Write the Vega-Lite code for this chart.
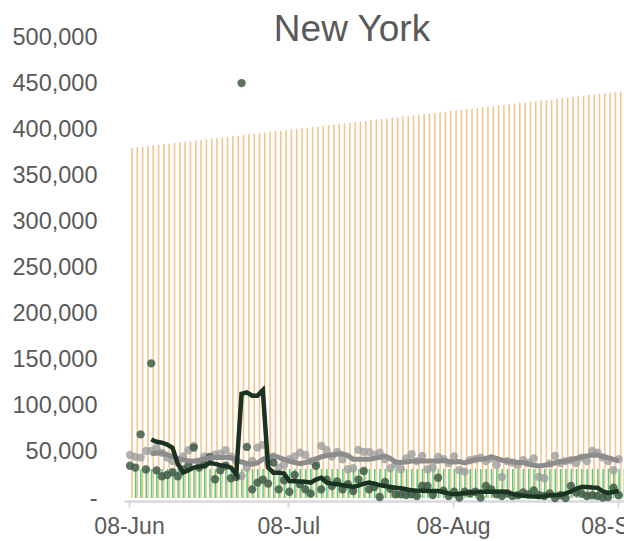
{
  "$schema": "https://vega.github.io/schema/vega-lite/v6.json",
  "autosize": "none",
  "padding": {"left": 124, "top": 37, "right": 0, "bottom": 43},
  "width": 520,
  "height": 461,
  "background": "white",
  "config": {"view": {"stroke": null}, "font": "Liberation Sans"},
  "title": {"text": "New York", "fontSize": 37, "font": "Liberation Sans", "fontWeight": "normal", "color": "#595959", "anchor": "middle", "frame": "group", "dx": -32, "offset": 0, "dy": 24},
  "data": {"values": [
    {"d":"2020-06-08","k":35000,"g":46700,"ka":null,"ga":null,"t":379700,"p":31500},
    {"d":"2020-06-09","k":33000,"g":44600,"ka":null,"ga":null,"t":380300,"p":31500},
    {"d":"2020-06-10","k":69000,"g":43800,"ka":null,"ga":null,"t":381000,"p":31500},
    {"d":"2020-06-11","k":31000,"g":51000,"ka":null,"ga":null,"t":381700,"p":31500},
    {"d":"2020-06-12","k":146000,"g":51000,"ka":63400,"ga":48000,"t":382400,"p":31500},
    {"d":"2020-06-13","k":30000,"g":54000,"ka":61000,"ga":48500,"t":383000,"p":31500},
    {"d":"2020-06-14","k":23600,"g":49000,"ka":60000,"ga":49000,"t":383700,"p":31500},
    {"d":"2020-06-15","k":25000,"g":43800,"ka":58000,"ga":47000,"t":384300,"p":31500},
    {"d":"2020-06-16","k":28000,"g":40000,"ka":54500,"ga":45000,"t":385000,"p":31500},
    {"d":"2020-06-17","k":23600,"g":38400,"ka":37000,"ga":43000,"t":385700,"p":31500},
    {"d":"2020-06-18","k":31000,"g":45000,"ka":27500,"ga":41500,"t":386400,"p":31500},
    {"d":"2020-06-19","k":35000,"g":51800,"ka":30000,"ga":40500,"t":387000,"p":31500},
    {"d":"2020-06-20","k":54700,"g":56500,"ka":33000,"ga":40000,"t":387700,"p":31500},
    {"d":"2020-06-21","k":33000,"g":38400,"ka":34000,"ga":41000,"t":388400,"p":31500},
    {"d":"2020-06-22","k":36000,"g":45000,"ka":34800,"ga":42500,"t":389000,"p":31500},
    {"d":"2020-06-23","k":44600,"g":42000,"ka":38000,"ga":43800,"t":389700,"p":31500},
    {"d":"2020-06-24","k":20300,"g":47000,"ka":37000,"ga":44000,"t":390400,"p":31500},
    {"d":"2020-06-25","k":30000,"g":48000,"ka":35500,"ga":44000,"t":391000,"p":31500},
    {"d":"2020-06-26","k":35000,"g":51800,"ka":34800,"ga":43800,"t":391700,"p":31500},
    {"d":"2020-06-27","k":21400,"g":45000,"ka":33000,"ga":43800,"t":392400,"p":31500},
    {"d":"2020-06-28","k":22800,"g":40000,"ka":25800,"ga":41000,"t":393000,"p":31500},
    {"d":"2020-06-29","k":450000,"g":23900,"ka":113000,"ga":39000,"t":393700,"p":31500},
    {"d":"2020-06-30","k":55400,"g":33000,"ka":114500,"ga":37500,"t":394400,"p":31500},
    {"d":"2020-07-01","k":9400,"g":40200,"ka":111000,"ga":36600,"t":395100,"p":31500},
    {"d":"2020-07-02","k":16700,"g":54700,"ka":111000,"ga":38000,"t":395700,"p":31500},
    {"d":"2020-07-03","k":20000,"g":57600,"ka":117000,"ga":42000,"t":396400,"p":31500},
    {"d":"2020-07-04","k":15600,"g":38000,"ka":33000,"ga":44000,"t":397000,"p":31500},
    {"d":"2020-07-05","k":38400,"g":45000,"ka":27500,"ga":45600,"t":397700,"p":31500},
    {"d":"2020-07-06","k":9400,"g":33000,"ka":27500,"ga":44000,"t":398400,"p":31500},
    {"d":"2020-07-07","k":19200,"g":36000,"ka":26400,"ga":42000,"t":399000,"p":31500},
    {"d":"2020-07-08","k":6800,"g":42000,"ka":18500,"ga":40000,"t":399700,"p":31500},
    {"d":"2020-07-09","k":25000,"g":45000,"ka":18200,"ga":38500,"t":400400,"p":31500},
    {"d":"2020-07-10","k":15000,"g":49200,"ka":17800,"ga":37300,"t":401000,"p":31500},
    {"d":"2020-07-11","k":9400,"g":46700,"ka":17500,"ga":38500,"t":401700,"p":31500},
    {"d":"2020-07-12","k":4700,"g":40000,"ka":16700,"ga":40000,"t":402400,"p":31500},
    {"d":"2020-07-13","k":34800,"g":38000,"ka":20000,"ga":42500,"t":403000,"p":31500},
    {"d":"2020-07-14","k":9400,"g":56500,"ka":22000,"ga":44600,"t":403700,"p":31500},
    {"d":"2020-07-15","k":20000,"g":51800,"ka":17000,"ga":46000,"t":404400,"p":31500},
    {"d":"2020-07-16","k":13000,"g":45000,"ka":15600,"ga":47000,"t":405000,"p":31500},
    {"d":"2020-07-17","k":18000,"g":50000,"ka":15000,"ga":47500,"t":405700,"p":31500},
    {"d":"2020-07-18","k":9400,"g":42000,"ka":14000,"ga":48000,"t":406400,"p":31500},
    {"d":"2020-07-19","k":15000,"g":31200,"ka":13000,"ga":46000,"t":407000,"p":31500},
    {"d":"2020-07-20","k":7600,"g":32300,"ka":12000,"ga":42000,"t":407700,"p":31500},
    {"d":"2020-07-21","k":20000,"g":52200,"ka":13500,"ga":42000,"t":408400,"p":31500},
    {"d":"2020-07-22","k":29300,"g":50000,"ka":15500,"ga":42000,"t":409000,"p":31500},
    {"d":"2020-07-23","k":9400,"g":50000,"ka":16700,"ga":42000,"t":409700,"p":31500},
    {"d":"2020-07-24","k":12000,"g":47000,"ka":15500,"ga":43000,"t":410400,"p":31500},
    {"d":"2020-07-25","k":1100,"g":49200,"ka":14000,"ga":44000,"t":411000,"p":31500},
    {"d":"2020-07-26","k":17400,"g":42000,"ka":13000,"ga":45600,"t":411700,"p":31500},
    {"d":"2020-07-27","k":10000,"g":32300,"ka":12000,"ga":43000,"t":412400,"p":31500},
    {"d":"2020-07-28","k":4000,"g":36600,"ka":11200,"ga":39000,"t":413000,"p":31500},
    {"d":"2020-07-29","k":4000,"g":31200,"ka":10500,"ga":38400,"t":413700,"p":31500},
    {"d":"2020-07-30","k":3300,"g":43000,"ka":9500,"ga":39000,"t":414400,"p":31500},
    {"d":"2020-07-31","k":4000,"g":47500,"ka":8300,"ga":40000,"t":415000,"p":31500},
    {"d":"2020-08-01","k":2200,"g":40000,"ka":8000,"ga":40200,"t":415700,"p":31500},
    {"d":"2020-08-02","k":13000,"g":45600,"ka":7800,"ga":40200,"t":416400,"p":31500},
    {"d":"2020-08-03","k":13000,"g":31200,"ka":7600,"ga":40200,"t":417000,"p":31500},
    {"d":"2020-08-04","k":3300,"g":33000,"ka":7600,"ga":40200,"t":417700,"p":31500},
    {"d":"2020-08-05","k":22000,"g":44600,"ka":7600,"ga":40000,"t":418300,"p":31500},
    {"d":"2020-08-06","k":8000,"g":42000,"ka":6500,"ga":41000,"t":419000,"p":31500},
    {"d":"2020-08-07","k":2200,"g":38000,"ka":5000,"ga":39500,"t":419700,"p":31500},
    {"d":"2020-08-08","k":6800,"g":45000,"ka":4000,"ga":39000,"t":420300,"p":31500},
    {"d":"2020-08-09","k":400,"g":30100,"ka":4500,"ga":39500,"t":421000,"p":31500},
    {"d":"2020-08-10","k":6800,"g":28600,"ka":5500,"ga":38000,"t":421700,"p":31500},
    {"d":"2020-08-11","k":5000,"g":41000,"ka":6000,"ga":40000,"t":422300,"p":31500},
    {"d":"2020-08-12","k":6800,"g":42000,"ka":6300,"ga":42000,"t":423000,"p":31500},
    {"d":"2020-08-13","k":400,"g":43800,"ka":6800,"ga":42000,"t":423700,"p":31500},
    {"d":"2020-08-14","k":13000,"g":40000,"ka":6800,"ga":43000,"t":424300,"p":31500},
    {"d":"2020-08-15","k":9400,"g":43000,"ka":6800,"ga":44600,"t":425000,"p":31500},
    {"d":"2020-08-16","k":4000,"g":35900,"ka":6800,"ga":43000,"t":425700,"p":31500},
    {"d":"2020-08-17","k":2200,"g":22800,"ka":7000,"ga":41000,"t":426300,"p":31500},
    {"d":"2020-08-18","k":5000,"g":40000,"ka":6500,"ga":40000,"t":427000,"p":31500},
    {"d":"2020-08-19","k":2200,"g":38400,"ka":4500,"ga":39500,"t":427700,"p":31500},
    {"d":"2020-08-20","k":3000,"g":36000,"ka":3300,"ga":38500,"t":428300,"p":31500},
    {"d":"2020-08-21","k":6000,"g":41000,"ka":2500,"ga":38400,"t":429000,"p":31500},
    {"d":"2020-08-22","k":4000,"g":38000,"ka":2000,"ga":37000,"t":429700,"p":31500},
    {"d":"2020-08-23","k":8300,"g":43000,"ka":1500,"ga":35500,"t":430300,"p":31500},
    {"d":"2020-08-24","k":3000,"g":22800,"ka":1400,"ga":34800,"t":431000,"p":31500},
    {"d":"2020-08-25","k":2200,"g":21400,"ka":2000,"ga":35500,"t":431600,"p":31500},
    {"d":"2020-08-26","k":5000,"g":37300,"ka":3000,"ga":36600,"t":432300,"p":31500},
    {"d":"2020-08-27","k":0,"g":45600,"ka":3300,"ga":38000,"t":433000,"p":31500},
    {"d":"2020-08-28","k":3000,"g":38000,"ka":3500,"ga":39500,"t":433600,"p":31500},
    {"d":"2020-08-29","k":0,"g":40000,"ka":5000,"ga":40200,"t":434300,"p":31500},
    {"d":"2020-08-30","k":13000,"g":41000,"ka":7000,"ga":41500,"t":435000,"p":31500},
    {"d":"2020-08-31","k":6000,"g":38000,"ka":10000,"ga":43000,"t":435600,"p":31500},
    {"d":"2020-09-01","k":4700,"g":43800,"ka":12000,"ga":44600,"t":436300,"p":31500},
    {"d":"2020-09-02","k":2200,"g":40000,"ka":12000,"ga":45500,"t":437000,"p":31500},
    {"d":"2020-09-03","k":3000,"g":51000,"ka":11500,"ga":46500,"t":437600,"p":31500},
    {"d":"2020-09-04","k":2200,"g":49200,"ka":11200,"ga":46700,"t":438300,"p":31500},
    {"d":"2020-09-05","k":400,"g":44000,"ka":7000,"ga":45000,"t":439000,"p":31500},
    {"d":"2020-09-06","k":1000,"g":40200,"ka":5500,"ga":43800,"t":439600,"p":31500},
    {"d":"2020-09-07","k":11200,"g":30100,"ka":6500,"ga":42000,"t":440300,"p":31500},
    {"d":"2020-09-08","k":3000,"g":42000,"ka":7600,"ga":40200,"t":441000,"p":31500}
  ]},
  "encoding": {
    "x": {
      "field": "d", "type": "temporal", "title": null,
      "scale": {"type": "utc", "domain": [{"year": 2020, "month": 6, "date": 8, "utc": true}, {"year": 2020, "month": 9, "date": 12, "utc": true}]},
      "axis": {
        "values": [{"year": 2020, "month": 6, "date": 8, "utc": true}, {"year": 2020, "month": 7, "date": 8, "utc": true}, {"year": 2020, "month": 8, "date": 8, "utc": true}, {"year": 2020, "month": 9, "date": 8, "utc": true}],
        "format": "%d-%b", "grid": false, "offset": 3,
        "domainColor": "#d9d9d9", "domainWidth": 2.5, "tickColor": "#d9d9d9", "tickWidth": 2, "tickSize": 6,
        "labelFont": "Liberation Sans", "labelFontSize": 23, "labelColor": "#595959", "labelPadding": 8, "labelFlush": false, "labelOverlap": false
      }
    }
  },
  "layer": [
    {
      "mark": {"type": "bar", "width": 1.6, "xOffset": 3, "color": "#f1c68e"},
      "encoding": {"y": {"field": "t", "type": "quantitative", "title": null,
        "scale": {"domain": [0, 500000], "nice": false},
        "axis": {"values": [0, 50000, 100000, 150000, 200000, 250000, 300000, 350000, 400000, 450000, 500000],
          "labelExpr": "datum.value == 0 ? '-' : format(datum.value, ',')",
          "domain": false, "ticks": false, "grid": false, "labelPadding": 27,
          "labelFont": "Liberation Sans", "labelFontSize": 23.5, "labelColor": "#595959"}}}
    },
    {
      "mark": {"type": "bar", "width": 1.5, "xOffset": 6.6, "color": "#52cf7a"},
      "encoding": {"y": {"field": "p", "type": "quantitative"}}
    },
    {
      "mark": {"type": "point", "filled": true, "size": 70, "color": "#9d9d9d", "opacity": 0.8, "xOffset": 1},
      "encoding": {"y": {"field": "g", "type": "quantitative"}}
    },
    {
      "mark": {"type": "point", "filled": true, "size": 70, "color": "#415c48", "opacity": 0.85, "xOffset": 1},
      "encoding": {"y": {"field": "k", "type": "quantitative"}}
    },
    {
      "mark": {"type": "line", "color": "#8c8c8c", "strokeWidth": 5, "xOffset": 1},
      "encoding": {"y": {"field": "ga", "type": "quantitative"}}
    },
    {
      "mark": {"type": "line", "color": "#1b3322", "strokeWidth": 4.5, "xOffset": 1},
      "encoding": {"y": {"field": "ka", "type": "quantitative"}}
    }
  ]
}
